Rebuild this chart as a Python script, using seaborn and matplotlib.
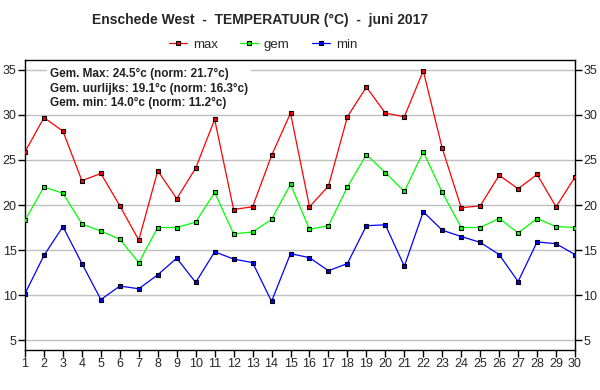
import numpy as np
import pandas as pd
import matplotlib
matplotlib.use("Agg")
import matplotlib.pyplot as plt
import seaborn as sns

days = list(range(1, 31))
t_max = [25.9, 29.7, 28.2, 22.7, 23.5, 19.9, 16.1, 23.8, 20.7, 24.1,
         29.5, 19.5, 19.8, 25.5, 30.2, 19.8, 22.1, 29.8, 33.1, 30.2,
         29.8, 34.9, 26.3, 19.7, 19.9, 23.3, 21.8, 23.4, 19.8, 23.1]
t_gem = [18.3, 22.0, 21.3, 17.9, 17.1, 16.2, 13.6, 17.5, 17.5, 18.1,
         21.4, 16.8, 17.0, 18.4, 22.3, 17.3, 17.7, 22.0, 25.6, 23.6,
         21.5, 25.9, 21.4, 17.5, 17.5, 18.5, 16.9, 18.5, 17.6, 17.5]
t_min = [10.15, 14.4, 17.6, 13.5, 9.5, 11.0, 10.7, 12.25, 14.1, 11.4,
         14.8, 14.0, 13.6, 9.3, 14.6, 14.15, 12.7, 13.5, 17.7, 17.8,
         13.2, 19.25, 17.2, 16.5, 15.85, 14.5, 11.5, 15.9, 15.7, 14.5]
series = ["max", "gem", "min"]
colors = {"max": "#ff0000", "gem": "#00ff00", "min": "#0000ff"}
y_ticks = [5, 10, 15, 20, 25, 30, 35]
info_lines = ["Gem. Max: 24.5°c (norm: 21.7°c)",
              "Gem. uurlijks: 19.1°c (norm: 16.3°c)",
              "Gem. min: 14.0°c (norm: 11.2°c)"]

df = pd.DataFrame({"dag": days * 3,
                   "temp": t_max + t_gem + t_min,
                   "reeks": np.repeat(series, len(days))})

sns.set_style("white")
plt.rcParams["font.family"] = ["Liberation Sans", "DejaVu Sans"]

fig = plt.figure(figsize=(6, 3.9), dpi=100)
ax = fig.add_axes([25 / 600, 40 / 390, 550 / 600, 290 / 390])

sns.lineplot(data=df, x="dag", y="temp", hue="reeks", hue_order=series,
             palette=colors, marker="s", markersize=3.3, markeredgecolor="black",
             markeredgewidth=0.8, linewidth=0.9, ax=ax, zorder=4)

ax.set_xlim(1, 30)
ax.set_ylim(3.9, 36.1)
ax.set_xticks(days)
ax.set_yticks(y_ticks)
ax.set_xlabel("")
ax.set_ylabel("")
ax.grid(axis="y", color="#c0c0c0", linewidth=1)
ax.set_axisbelow(True)
for s in ax.spines.values():
    s.set_color("black")
    s.set_linewidth(1)
ax.tick_params(axis="both", direction="out", length=5, width=1, color="black",
               labelsize=9, pad=1, left=True, bottom=True,
               right=True, labelright=True)

ax.text(25 / 550, 1 - 8 / 290, "\n".join(info_lines), transform=ax.transAxes,
        ha="left", va="top", fontsize=8.5, fontweight="bold", color="#202020",
        linespacing=1.3, zorder=3,
        bbox=dict(facecolor="white", edgecolor="none", pad=2))

handles, labels = ax.get_legend_handles_labels()
ax.legend(handles, labels, loc="center", bbox_to_anchor=(238 / 550, 1 + 15 / 290),
          ncol=3, frameon=False, fontsize=9.5, handlelength=1.4,
          columnspacing=1.7, handletextpad=0.4, borderaxespad=0)

fig.suptitle("Enschede West  -  TEMPERATUUR (°C)  -  juni 2017",
             x=260 / 600, y=1 - 20 / 390, va="center",
             fontsize=10, fontweight="bold")

fig.savefig("out.png", dpi=100)
